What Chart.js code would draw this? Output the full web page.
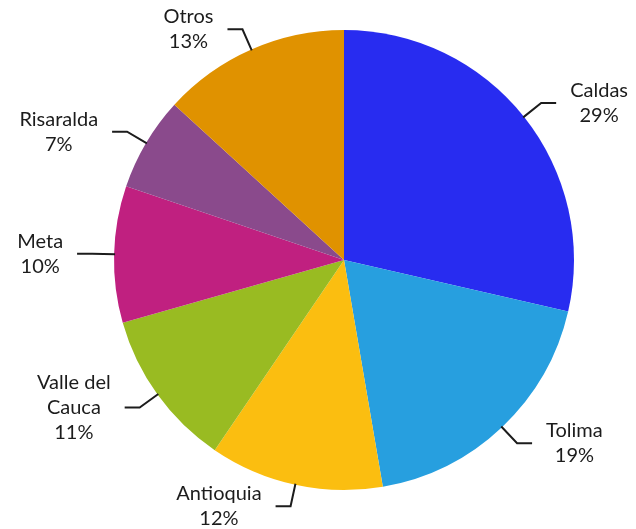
<!DOCTYPE html>
<html>
<head>
<meta charset="utf-8">
<script src="https://cdn.jsdelivr.net/npm/chart.js@4/dist/chart.umd.min.js"></script>
<style>
  html, body { margin: 0; padding: 0; background: #fff; }
  #wrap { width: 636px; height: 529px; }
</style>
</head>
<body>
<div id="wrap"><canvas id="pie"></canvas></div>
<script>
// data
const categories = ["Caldas", "Tolima", "Antioquia", ["Valle del", "Cauca"], "Meta", "Risaralda", "Otros"];
const shares = [28.6, 18.7, 12.2, 11.1, 9.6, 6.6, 13.2];
const colors = ["#282cf0", "#279fdf", "#fbbe10", "#99bb22", "#c02080", "#8a4a8c", "#e09200"];

const FONT = "20px Lato, 'Open Sans', sans-serif";
const INK = "#1c1c1c";

// leader lines + labels outside the pie
const outsideLabels = {
  id: "outsideLabels",
  afterDraw(chart) {
    const ctx = chart.ctx;
    const arcs = chart.getDatasetMeta(0).data;
    ctx.save();
    ctx.font = FONT;
    ctx.fillStyle = INK;
    ctx.strokeStyle = INK;
    ctx.lineWidth = 2;
    ctx.textAlign = "center";
    ctx.textBaseline = "middle";
    arcs.forEach((arc, i) => {
      const p = arc.getProps(["x", "y", "startAngle", "endAngle", "outerRadius"], true);
      const mid = (p.startAngle + p.endAngle) / 2;
      const cos = Math.cos(mid), sin = Math.sin(mid);
      const x0 = p.x + cos * (p.outerRadius - 1), y0 = p.y + sin * (p.outerRadius - 1);
      const x1 = p.x + cos * (p.outerRadius + 22), y1 = p.y + sin * (p.outerRadius + 22);
      const dir = cos >= 0 ? 1 : -1;
      const x2 = x1 + dir * 15;
      ctx.beginPath();
      ctx.moveTo(x0, y0);
      ctx.lineTo(x1, y1);
      ctx.lineTo(x2, y1);
      ctx.stroke();

      const name = [].concat(categories[i]);
      const lines = name.concat([Math.round(shares[i]) + "%"]);
      const w = Math.max(...lines.map(l => ctx.measureText(l).width));
      const cx = x2 + dir * (14 + w / 2);
      const lh = 25;
      const top = y1 - (lines.length - 1) * lh / 2;
      lines.forEach((l, k) => ctx.fillText(l, cx, top + k * lh));
    });
    ctx.restore();
  }
};

new Chart(document.getElementById("pie"), {
  type: "pie",
  data: {
    labels: categories,
    datasets: [{
      data: shares,
      backgroundColor: colors,
      borderWidth: 0
    }]
  },
  options: {
    responsive: true,
    maintainAspectRatio: false,
    animation: false,
    layout: { padding: { top: 30, bottom: 39, left: 114, right: 62 } },
    plugins: {
      legend: { display: false },
      tooltip: { enabled: false }
    }
  },
  plugins: [outsideLabels]
});
</script>
</body>
</html>
